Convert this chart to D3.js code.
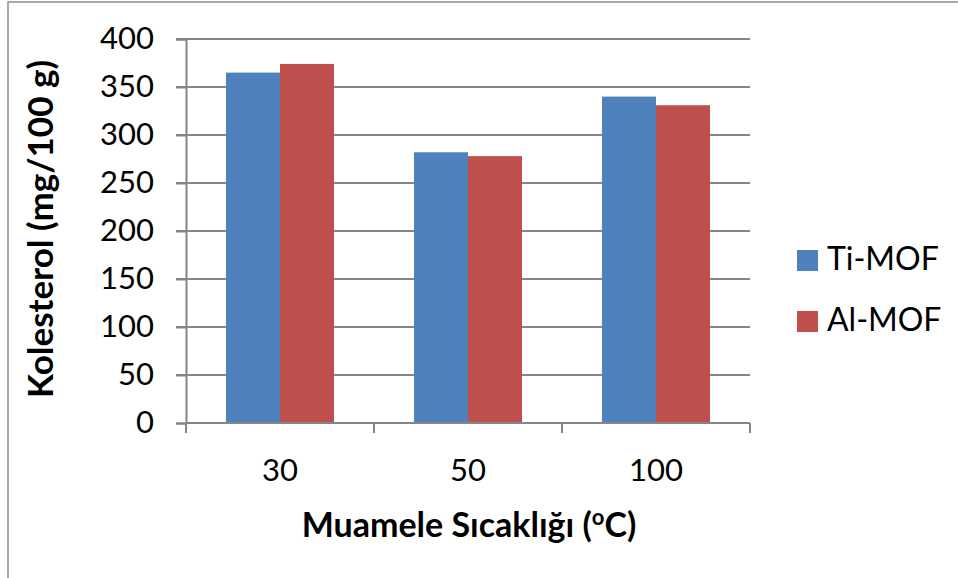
<!DOCTYPE html>
<html>
<head>
<meta charset="utf-8">
<script src="https://cdn.jsdelivr.net/npm/d3@7"></script>
<style>
  body { margin: 0; background: #fff; }
  svg { display: block; font-family: Lato, "Open Sans", sans-serif; }
</style>
</head>
<body>
<svg id="chart" width="958" height="578"></svg>
<script>
// Temperatures (°C) and cholesterol values (mg/100 g)
const categories = ["30", "50", "100"];
const seriesNames = ["Ti-MOF", "Al-MOF"];
const tiMOF = [365, 282, 340];
const alMOF = [374, 278, 331];
const yTicks = [0, 50, 100, 150, 200, 250, 300, 350, 400];
const colors = ["#4F81BD", "#C0504D"];

(function () {
  const series = [tiMOF, alMOF];
  const svg = d3.select("#chart");

  // Outer frame
  svg.append("rect").attr("x", 8).attr("y", 2).attr("width", 960).attr("height", 590)
    .attr("fill", "none").attr("stroke", "#8c8c8c").attr("stroke-width", 1.5);

  const plotLeft = 186, plotRight = 750, plotTop = 39, plotBottom = 423;

  const x = d3.scaleBand().domain(categories).range([plotLeft, plotRight]);
  const xInner = d3.scaleBand().domain(seriesNames.map((_, i) => i))
    .range([0, x.bandwidth()]).paddingInner(0).paddingOuter(0.74);
  const y = d3.scaleLinear().domain([0, 400]).range([plotBottom, plotTop]);

  // Horizontal gridlines
  svg.append("g").selectAll("line").data(yTicks.slice(1)).join("line")
    .attr("x1", plotLeft - 10).attr("x2", plotRight)
    .attr("y1", d => y(d)).attr("y2", d => y(d))
    .attr("stroke", "#868686").attr("stroke-width", 2);

  // Bars
  const groups = svg.append("g").selectAll("g").data(categories).join("g")
    .attr("transform", d => `translate(${x(d)},0)`);
  groups.selectAll("rect").data((d, ci) => series.map((s, si) => ({ si, v: s[ci] })))
    .join("rect")
    .attr("x", d => xInner(d.si))
    .attr("width", xInner.bandwidth())
    .attr("y", d => y(d.v))
    .attr("height", d => y(0) - y(d.v))
    .attr("fill", d => colors[d.si]);

  // Y axis
  const yAxis = svg.append("g").attr("transform", `translate(${plotLeft},0)`)
    .call(d3.axisLeft(y).tickValues(yTicks).tickSize(10).tickPadding(22));
  yAxis.select(".domain").attr("stroke", "#868686").attr("stroke-width", 2);
  yAxis.selectAll(".tick line").attr("stroke", "#868686").attr("stroke-width", 2);
  yAxis.selectAll("text").attr("font-size", 31).attr("fill", "#000")
    .attr("font-family", "Lato, sans-serif");

  // X axis
  const xAxis = svg.append("g").attr("transform", `translate(0,${plotBottom})`)
    .call(d3.axisBottom(x).tickSize(0).tickPadding(36));
  xAxis.select(".domain").attr("stroke", "#868686").attr("stroke-width", 2)
    .attr("d", `M${plotLeft},0H${plotRight}`);
  xAxis.selectAll("text").attr("font-size", 31).attr("fill", "#000")
    .attr("font-family", "Lato, sans-serif");
  // category separators
  svg.append("g").selectAll("line")
    .data(categories.map(c => x(c)).concat([plotRight])).join("line")
    .attr("x1", d => d).attr("x2", d => d)
    .attr("y1", plotBottom).attr("y2", plotBottom + 10)
    .attr("stroke", "#868686").attr("stroke-width", 2);

  // Axis titles
  svg.append("text")
    .attr("transform", `translate(53,${(plotTop + plotBottom) / 2 - 2}) rotate(-90)`)
    .attr("text-anchor", "middle").attr("font-size", 35).attr("font-weight", "bold")
    .text("Kolesterol (mg/100 g)");

  const xt = svg.append("text").attr("x", 469).attr("y", 537)
    .attr("text-anchor", "middle").attr("font-size", 34).attr("font-weight", "bold");
  xt.append("tspan").text("Muamele Sıcaklığı (");
  xt.append("tspan").attr("font-size", 22).attr("dy", -12).text("o");
  xt.append("tspan").attr("dy", 12).text("C)");

  // Legend
  const legend = svg.append("g").selectAll("g").data(seriesNames).join("g")
    .attr("transform", (d, i) => `translate(797,${250 + i * 61})`);
  legend.append("rect").attr("width", 21).attr("height", 21)
    .attr("fill", (d, i) => colors[i]);
  legend.append("text").attr("x", 30).attr("y", 20)
    .attr("font-size", 32).attr("fill", "#000").text(d => d);
})();
</script>
</body>
</html>
